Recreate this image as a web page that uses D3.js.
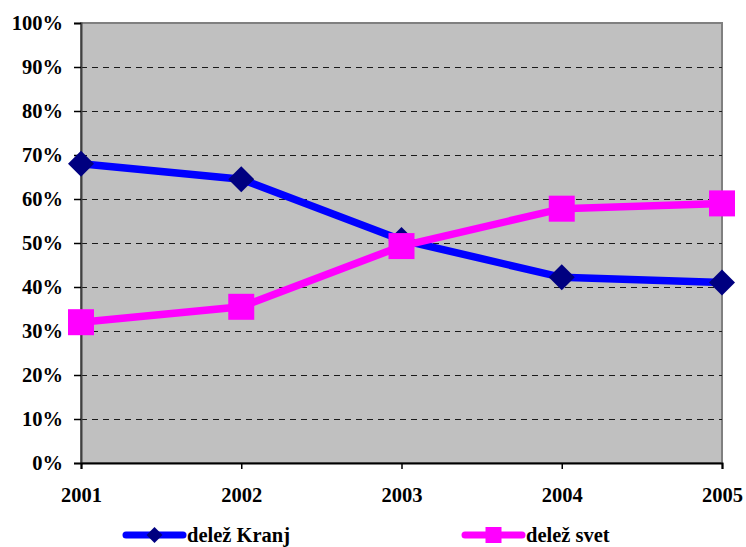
<!DOCTYPE html>
<html>
<head>
<meta charset="utf-8">
<script src="https://cdn.jsdelivr.net/npm/d3@7"></script>
<style>
  html, body { margin: 0; padding: 0; background: #fff; }
</style>
</head>
<body>
<svg id="chart" width="746" height="547"></svg>
<script>
// Years on the category axis
const years = ["2001", "2002", "2003", "2004", "2005"];
// Share of Kranj and of the rest of the world (fractions)
const delezKranj = [0.68, 0.645, 0.507, 0.422, 0.41];
const delezSvet = [0.32, 0.355, 0.493, 0.578, 0.59];
// Axis tick values
const yTicks = [0, 0.1, 0.2, 0.3, 0.4, 0.5, 0.6, 0.7, 0.8, 0.9, 1.0];
const seriesNames = ["delež Kranj", "delež svet"];

const FONT = "'Liberation Serif', 'Times New Roman', serif";

const svg = d3.select("#chart");
const plot = { left: 81, right: 722, top: 23, bottom: 463 };

const x = d3.scalePoint().domain(years).range([plot.left, plot.right]);
const y = d3.scaleLinear().domain([0, 1]).range([plot.bottom, plot.top]);

function styleText(sel) {
  sel.style("font-family", FONT)
     .style("font-weight", "bold")
     .style("font-size", "20.5px")
     .style("fill", "#000");
}

// Plot background
svg.append("rect")
  .attr("x", plot.left).attr("y", plot.top)
  .attr("width", plot.right - plot.left).attr("height", plot.bottom - plot.top)
  .attr("fill", "#c0c0c0")
  .attr("stroke", "#808080").attr("stroke-width", 2);

// Dashed gridlines
svg.append("g").selectAll("line")
  .data(yTicks.filter(d => d > 0 && d < 1))
  .join("line")
  .attr("x1", plot.left).attr("x2", plot.right)
  .attr("y1", d => Math.round(y(d)) + 0.5).attr("y2", d => Math.round(y(d)) + 0.5)
  .attr("stroke", "#1a1a1a").attr("stroke-width", 1.2)
  .attr("stroke-dasharray", "6,5");

// Y axis
const yAxis = svg.append("g")
  .attr("transform", `translate(${plot.left},0)`)
  .call(d3.axisLeft(y).tickValues(yTicks).tickFormat(d3.format(".0%")).tickSize(7).tickPadding(11));
yAxis.select(".domain").attr("stroke", "#404040").attr("stroke-width", 2);
yAxis.selectAll(".tick line").attr("stroke", "#000").attr("stroke-width", 1.5);
yAxis.selectAll("text").call(styleText).attr("dy", "0.33em");

// X axis
const xAxis = svg.append("g")
  .attr("transform", `translate(0,${plot.bottom})`)
  .call(d3.axisBottom(x).tickSize(6).tickPadding(18));
xAxis.select(".domain").attr("stroke", "#000").attr("stroke-width", 2);
xAxis.selectAll(".tick line").attr("stroke", "#000").attr("stroke-width", 1.5);
xAxis.selectAll("text").call(styleText);

const line = d3.line().x((d, i) => x(years[i])).y(d => y(d));

// Kranj series: blue line, navy diamonds
svg.append("path").datum(delezKranj)
  .attr("d", line).attr("fill", "none")
  .attr("stroke", "#0000ff").attr("stroke-width", 7.5);
svg.append("g").selectAll("path")
  .data(delezKranj).join("path")
  .attr("transform", (d, i) => `translate(${x(years[i])},${y(d)})`)
  .attr("d", "M0,-13L13,0L0,13L-13,0Z")
  .attr("fill", "#000080");

// Svet series: magenta line, magenta squares
svg.append("path").datum(delezSvet)
  .attr("d", line).attr("fill", "none")
  .attr("stroke", "#ff00ff").attr("stroke-width", 7.5);
svg.append("g").selectAll("rect")
  .data(delezSvet).join("rect")
  .attr("x", (d, i) => x(years[i]) - 13).attr("y", d => y(d) - 13)
  .attr("width", 26).attr("height", 26)
  .attr("fill", "#ff00ff");

// Legend
const legend = svg.append("g");
const legendItems = [
  { name: seriesNames[0], x0: 126, color: "#0000ff", marker: "diamond" },
  { name: seriesNames[1], x0: 465, color: "#ff00ff", marker: "square" }
];
const ly = 535;
legendItems.forEach(item => {
  legend.append("line")
    .attr("x1", item.x0).attr("x2", item.x0 + 57)
    .attr("y1", ly).attr("y2", ly)
    .attr("stroke", item.color).attr("stroke-width", 7)
    .attr("stroke-linecap", "round");
  const cx = item.x0 + 28.5;
  if (item.marker === "diamond") {
    legend.append("path")
      .attr("transform", `translate(${cx},${ly})`)
      .attr("d", "M0,-8L8,0L0,8L-8,0Z")
      .attr("fill", "#000080");
  } else {
    legend.append("rect")
      .attr("x", cx - 8).attr("y", ly - 8)
      .attr("width", 16).attr("height", 16)
      .attr("fill", "#ff00ff");
  }
  legend.append("text")
    .attr("x", item.x0 + 61).attr("y", ly + 7)
    .call(styleText)
    .text(item.name);
});
</script>
</body>
</html>
